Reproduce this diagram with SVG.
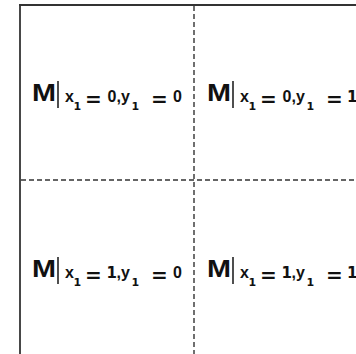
<svg xmlns="http://www.w3.org/2000/svg" width="356" height="354" viewBox="0 0 356 354">
<style>
.bg{fill:#fff}
.border{stroke:#333;stroke-width:1.8;fill:none}
.dash{stroke:#333;stroke-width:1.4;stroke-dasharray:5,3;fill:none}
.bar{stroke:#222;stroke-width:1.6}
.M{font-family:"Liberation Sans",Arial,sans-serif;font-weight:bold;font-size:23px;fill:#111}
.s{font-family:"Liberation Sans",Arial,sans-serif;font-weight:bold;font-size:16px;fill:#111}
.eq{font-family:"DejaVu Sans","Liberation Sans",sans-serif;font-weight:bold;font-size:20px;fill:#111}
.sub{font-family:"DejaVu Sans","Liberation Sans",sans-serif;font-weight:bold;font-size:11px;fill:#111}
.d1{font-family:"DejaVu Sans","Liberation Sans",sans-serif;font-weight:bold;font-size:15px;fill:#111}
</style>
<defs>
<g id="label">
<text class="M" x="32" y="101" textLength="24" lengthAdjust="spacingAndGlyphs">M</text>
<line class="bar" x1="58" y1="81" x2="58" y2="108"/>
<text class="s" x="65" y="102">x</text>
<text class="sub" x="73.5" y="109.5">1</text>
<text class="eq" x="85" y="106">=</text>
<text class="s" x="116.5" y="102">,</text>
<text class="s" x="121" y="102">y</text>
<text class="sub" x="131.5" y="109.5">1</text>
<text class="eq" x="151" y="106">=</text>
</g>
</defs>
<rect class="bg" x="0" y="0" width="356" height="354"/>
<g id="connectors">
<line class="border" x1="19.1" y1="5" x2="356" y2="5"/>
<line class="border" x1="20" y1="4.1" x2="20" y2="354"/>
<line class="dash" x1="194" y1="6" x2="194" y2="354"/>
<line class="dash" x1="21" y1="180" x2="356" y2="180"/>
</g>
<g id="cell00">
<use href="#label"/>
<text class="s" x="107.5" y="102">0</text>
<text class="s" x="173" y="102">0</text>
</g>
<g id="cell01" transform="translate(175,0)">
<use href="#label"/>
<text class="s" x="107.5" y="102">0</text>
<text class="d1" x="172" y="102">1</text>
</g>
<g id="cell10" transform="translate(0,176)">
<use href="#label"/>
<text class="d1" x="106.5" y="102">1</text>
<text class="s" x="173" y="102">0</text>
</g>
<g id="cell11" transform="translate(175,176)">
<use href="#label"/>
<text class="d1" x="106.5" y="102">1</text>
<text class="d1" x="172" y="102">1</text>
</g>
</svg>
